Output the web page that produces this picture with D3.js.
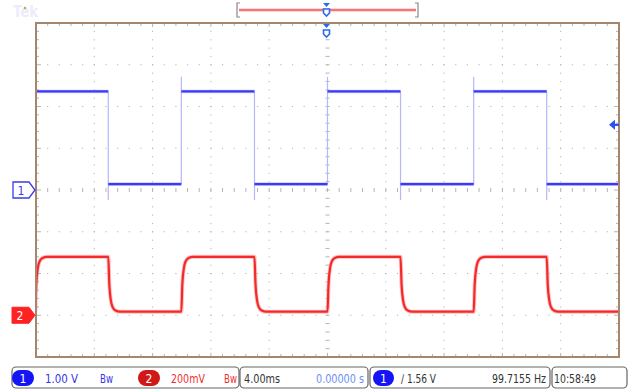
<!DOCTYPE html>
<html>
  <head>
    <meta charset="utf-8">
    <title>Scope capture</title>
    <script src="https://d3js.org/d3.v7.min.js"></script>
    <style>
      body { margin: 0; background: #fff; }
      #chart { display: block; font-family: "Liberation Sans Narrow", "DejaVu Sans Condensed", "Liberation Sans", sans-serif; }
      .grid { stroke: #b4b4b4; stroke-width: 1; }
      .frame { fill: none; stroke: #a3866c; stroke-width: 2; }
      .box { fill: #fff; stroke: #666; stroke-width: 1.2; }
      .status { font-size: 12px; }
    </style>
  </head>
  <body>
    <svg id="chart" width="630" height="391"></svg>
    <script>
      // screen settings
      const timeDomain = [-20, 20];          // ms, 4.00ms/div, trigger at centre
      const ch1Scale = 1.0;                  // V/div
      const ch2Scale = 0.2;                  // V/div
      const ch1Position = 0;                 // div from centre
      const ch2Position = -3;
      const triggerLevel = 1.56;             // V on ch1
      // edges (ms)
      const edgeTimes = [-20.05, -15.04, -10.03, -5.01, 0, 5.01, 10.03, 15.04];
      const edgeKinds = ["rise", "fall", "rise", "fall", "rise", "fall", "rise", "fall"];
      // levels (V)
      const ch1High = 2.36, ch1Low = 0.14;
      const ch1Overshoot = 0.35, ch1Undershoot = 0.38;
      const ch2High = 0.280, ch2Low = 0.017;
      // ch2 edge shape: [ms after edge, fraction of step]
      const ch2EdgeShape = [[0, 0], [0.07, 0.5], [0.18, 0.8], [0.3, 0.92], [0.5, 0.98], [0.8, 1]];
      // status bar texts
      const ch1Label = "1.00 V", ch2Label = "200mV", bwLabel = "Bw";
      const timeLabel = "4.00ms", delayLabel = "0.00000 s";
      const trigLabel = "\u2215 1.56 V", freqLabel = "99.7155 Hz", clockLabel = "10:58:49";

      const margin = { top: 23, right: 11, bottom: 34, left: 36 };
      const width = 630, height = 391;
      const plotLeft = margin.left, plotRight = width - margin.right;
      const plotTop = margin.top, plotBottom = height - margin.bottom;
      const divY = (plotBottom - plotTop) / 8;
      const midY = (plotTop + plotBottom) / 2;

      const x = d3.scaleLinear().domain(timeDomain).range([plotLeft, plotRight]);
      const y1 = d3.scaleLinear()
        .domain([(-4 - ch1Position) * ch1Scale, (4 - ch1Position) * ch1Scale])
        .range([plotBottom, plotTop]);
      const y2 = d3.scaleLinear()
        .domain([(-4 - ch2Position) * ch2Scale, (4 - ch2Position) * ch2Scale])
        .range([plotBottom, plotTop]);

      const chart = d3.select("#chart");

      // faint Tek logo
      chart.append("text")
        .attr("x", 13).attr("y", 17)
        .attr("font-size", 15).attr("font-weight", "bold")
        .attr("fill", "#ececfa")
        .text("Tek");
      chart.append("circle")
        .attr("cx", 25).attr("cy", 8).attr("r", 1.3)
        .attr("fill", "#c9a35c");

      // graticule
      const gridGroup = chart.append("g");
      const xDivs = d3.range(11).map(function(i) { return plotLeft + i * (plotRight - plotLeft) / 10; });
      const yDivs = d3.range(9).map(function(i) { return plotTop + i * divY; });
      const xMinor = d3.range(51).map(function(i) { return plotLeft + i * (plotRight - plotLeft) / 50; });
      const yMinor = d3.range(41).map(function(i) { return plotTop + i * divY / 5; });
      // dotted division lines
      xDivs.slice(1, -1).forEach(function(gx, i) {
        if (i == 4) return;
        gridGroup.selectAll(null)
          .data(yMinor.slice(1, -1))
          .enter().append("rect")
            .attr("x", gx - 0.5).attr("y", function(d) { return d - 0.5; })
            .attr("width", 1).attr("height", 1.2)
            .attr("fill", "#b4b4b4");
      });
      yDivs.slice(1, -1).forEach(function(gy, i) {
        if (i == 3) return;
        gridGroup.selectAll(null)
          .data(xMinor.slice(1, -1))
          .enter().append("rect")
            .attr("x", function(d) { return d - 0.6; }).attr("y", gy - 0.5)
            .attr("width", 1.2).attr("height", 1)
            .attr("fill", "#b4b4b4");
      });
      // centre cross with ticks
      const cx = (plotLeft + plotRight) / 2;
      gridGroup.selectAll(null)
        .data(yMinor.slice(1, -1))
        .enter().append("line")
          .classed("grid", true)
          .attr("x1", cx - 2).attr("x2", cx + 2)
          .attr("y1", function(d) { return d; }).attr("y2", function(d) { return d; });
      gridGroup.selectAll(null)
        .data(xMinor.slice(1, -1))
        .enter().append("line")
          .classed("grid", true)
          .attr("x1", function(d) { return d; }).attr("x2", function(d) { return d; })
          .attr("y1", midY - 2).attr("y2", midY + 2);
      // edge ticks
      gridGroup.selectAll(null)
        .data(xMinor.slice(1, -1))
        .enter().append("line")
          .classed("grid", true)
          .attr("x1", function(d) { return d; }).attr("x2", function(d) { return d; })
          .attr("y1", plotTop).attr("y2", function(d, i) { return plotTop + ((i + 1) % 5 == 0 ? 4 : 3); });
      gridGroup.selectAll(null)
        .data(xMinor.slice(1, -1))
        .enter().append("line")
          .classed("grid", true)
          .attr("x1", function(d) { return d; }).attr("x2", function(d) { return d; })
          .attr("y1", plotBottom).attr("y2", function(d, i) { return plotBottom - ((i + 1) % 5 == 0 ? 4 : 3); });
      gridGroup.selectAll(null)
        .data(yMinor.slice(1, -1))
        .enter().append("line")
          .classed("grid", true)
          .attr("y1", function(d) { return d; }).attr("y2", function(d) { return d; })
          .attr("x1", plotLeft).attr("x2", function(d, i) { return plotLeft + ((i + 1) % 5 == 0 ? 5 : 3); });
      gridGroup.selectAll(null)
        .data(yMinor.slice(1, -1))
        .enter().append("line")
          .classed("grid", true)
          .attr("y1", function(d) { return d; }).attr("y2", function(d) { return d; })
          .attr("x1", plotRight).attr("x2", function(d, i) { return plotRight - ((i + 1) % 5 == 0 ? 5 : 3); });

      // clip to screen
      chart.append("clipPath").attr("id", "screen")
        .append("rect")
          .attr("x", plotLeft).attr("y", plotTop)
          .attr("width", plotRight - plotLeft).attr("height", plotBottom - plotTop);
      const traceGroup = chart.append("g").attr("clip-path", "url(#screen)");

      // ch1: flat segments between edges, faint vertical edges
      const ch1Segments = [];
      edgeTimes.forEach(function(t, i) {
        let end = i < edgeTimes.length - 1 ? edgeTimes[i + 1] : timeDomain[1] + 1;
        ch1Segments.push({ t0: t, t1: end, v: edgeKinds[i] == "rise" ? ch1High : ch1Low });
      });
      traceGroup.selectAll(".edge1")
        .data(edgeTimes)
        .enter().append("line")
          .classed("edge1", true)
          .attr("x1", function(d) { return x(d); }).attr("x2", function(d) { return x(d); })
          .attr("y1", function(d, i) { return edgeKinds[i] == "rise" ? y1(ch1High + ch1Overshoot) : y1(ch1High); })
          .attr("y2", function(d, i) { return edgeKinds[i] == "rise" ? y1(ch1Low) : y1(ch1Low - ch1Undershoot); })
          .attr("stroke", "#b4b6ff").attr("stroke-width", 1.2);
      traceGroup.selectAll(".halo1")
        .data(ch1Segments)
        .enter().append("line")
          .attr("x1", function(d) { return x(d.t0); }).attr("x2", function(d) { return x(d.t1); })
          .attr("y1", function(d) { return y1(d.v); }).attr("y2", function(d) { return y1(d.v); })
          .attr("stroke", "#9a9aff").attr("stroke-width", 3.6).attr("opacity", 0.5);
      traceGroup.selectAll(".seg1")
        .data(ch1Segments)
        .enter().append("line")
          .classed("seg1", true)
          .attr("x1", function(d) { return x(d.t0); }).attr("x2", function(d) { return x(d.t1); })
          .attr("y1", function(d) { return y1(d.v); }).attr("y2", function(d) { return y1(d.v); })
          .attr("stroke", "#3b3bf2").attr("stroke-width", 2.2);

      // ch2: rounded RC edges
      const ch2Points = [];
      edgeTimes.forEach(function(t, i) {
        let from = edgeKinds[i] == "rise" ? ch2Low : ch2High;
        let to = edgeKinds[i] == "rise" ? ch2High : ch2Low;
        ch2EdgeShape.forEach(function(s) {
          ch2Points.push([t + s[0], from + (to - from) * s[1]]);
        });
      });
      ch2Points.push([timeDomain[1] + 1, ch2Low]);
      const line2 = d3.line()
        .x(function(d) { return x(d[0]); })
        .y(function(d) { return y2(d[1]); })
        .curve(d3.curveMonotoneX);
      traceGroup.append("path")
        .attr("d", line2(ch2Points))
        .attr("fill", "none").attr("stroke", "#ff9a9a").attr("stroke-width", 4).attr("opacity", 0.6);
      traceGroup.append("path")
        .attr("d", line2(ch2Points))
        .attr("fill", "none").attr("stroke", "#f42a2a").attr("stroke-width", 2.2);

      // frame
      chart.append("rect")
        .classed("frame", true)
        .attr("x", plotLeft).attr("y", plotTop)
        .attr("width", plotRight - plotLeft).attr("height", plotBottom - plotTop);

      // channel ground markers
      const m1 = y1(0), m2 = y2(0);
      chart.append("path")
        .attr("d", "M13," + (m1 - 8) + "H29L35," + m1 + "L29," + (m1 + 8) + "H13Z")
        .attr("fill", "#fff").attr("stroke", "#3a3af0").attr("stroke-width", 1.3);
      chart.append("text")
        .attr("x", 21).attr("y", m1 + 4.5).attr("text-anchor", "middle")
        .attr("font-size", 12).attr("fill", "#3a3af0").text("1");
      chart.append("path")
        .attr("d", "M12," + (m2 - 8) + "H29L35," + m2 + "L29," + (m2 + 8) + "H12Z")
        .attr("fill", "#f22").attr("stroke", "#f22").attr("stroke-width", 1);
      chart.append("text")
        .attr("x", 20).attr("y", m2 + 4.5).attr("text-anchor", "middle")
        .attr("font-size", 12).attr("fill", "#fff").text("2");

      // trigger level arrow (right edge)
      const ty = y1(triggerLevel);
      chart.append("path")
        .attr("d", "M609," + ty + "L615," + (ty - 5) + "V" + (ty - 1.2) + "H619V" + (ty + 1.2) + "H615V" + (ty + 5) + "Z")
        .attr("fill", "#2f4ff0");

      // record view bracket and trigger position
      const tx = x(0) - 1;
      chart.append("path")
        .attr("d", "M240,3H237V17H240M415,3H418V17H415")
        .attr("fill", "none").attr("stroke", "#888").attr("stroke-width", 1.2);
      chart.append("line")
        .attr("x1", 239).attr("x2", 416).attr("y1", 10).attr("y2", 10)
        .attr("stroke", "#ffb0b0").attr("stroke-width", 3);
      chart.append("line")
        .attr("x1", 239).attr("x2", 416).attr("y1", 10).attr("y2", 10)
        .attr("stroke", "#f03a3a").attr("stroke-width", 1.2);
      [3, 24].forEach(function(py) {
        chart.append("path")
          .attr("d", "M" + (tx - 3.5) + "," + py + "H" + (tx + 3.5) + "L" + tx + "," + (py + 4) + "Z")
          .attr("fill", "#2a6af0");
        chart.append("path")
          .attr("d", "M" + (tx - 3) + "," + (py + 6) + "H" + (tx + 3) + "V" + (py + 10) + "L" + tx + "," + (py + 13) + "L" + (tx - 3) + "," + (py + 10) + "Z")
          .attr("fill", "#fff").attr("stroke", "#2a6af0").attr("stroke-width", 1.6);
      });

      // status bar
      const status = chart.append("g").classed("status", true);
      const boxes = [[12, 239], [240, 368], [370, 550], [552, 627]];
      status.selectAll(".box")
        .data(boxes)
        .enter().append("rect")
          .classed("box", true)
          .attr("x", function(d) { return d[0]; }).attr("y", 367)
          .attr("width", function(d) { return d[1] - d[0]; }).attr("height", 21)
          .attr("rx", 4);
      const badges = [
        { x: 12, w: 22, fill: "#1414f5", label: "1" },
        { x: 138, w: 22, fill: "#d01818", label: "2" },
        { x: 373, w: 21, fill: "#1414f5", label: "1" }
      ];
      status.selectAll(".badge")
        .data(badges)
        .enter().append("rect")
          .attr("x", function(d) { return d.x; }).attr("y", 370)
          .attr("width", function(d) { return d.w; }).attr("height", 16)
          .attr("rx", 8)
          .attr("fill", function(d) { return d.fill; });
      status.selectAll(".badgeText")
        .data(badges)
        .enter().append("text")
          .attr("x", function(d) { return d.x + d.w / 2; }).attr("y", 382.5)
          .attr("text-anchor", "middle").attr("fill", "#fff")
          .text(function(d) { return d.label; });
      const labels = [
        { x: 45, w: 33, c: "#3535e8", t: ch1Label },
        { x: 100, w: 13, c: "#3535e8", t: bwLabel },
        { x: 171, w: 34, c: "#f03030", t: ch2Label },
        { x: 224, w: 13, c: "#f03030", t: bwLabel },
        { x: 244, w: 36, c: "#333", t: timeLabel },
        { x: 316, w: 48, c: "#6e8ef2", t: delayLabel },
        { x: 401, w: 35, c: "#333", t: trigLabel },
        { x: 492, w: 54, c: "#333", t: freqLabel },
        { x: 554, w: 42, c: "#333", t: clockLabel }
      ];
      status.selectAll(".label")
        .data(labels)
        .enter().append("text")
          .attr("x", function(d) { return d.x; }).attr("y", 383)
          .attr("fill", function(d) { return d.c; })
          .attr("textLength", function(d) { return d.w; })
          .attr("lengthAdjust", "spacingAndGlyphs")
          .text(function(d) { return d.t; });
    </script>
  </body>
</html>
